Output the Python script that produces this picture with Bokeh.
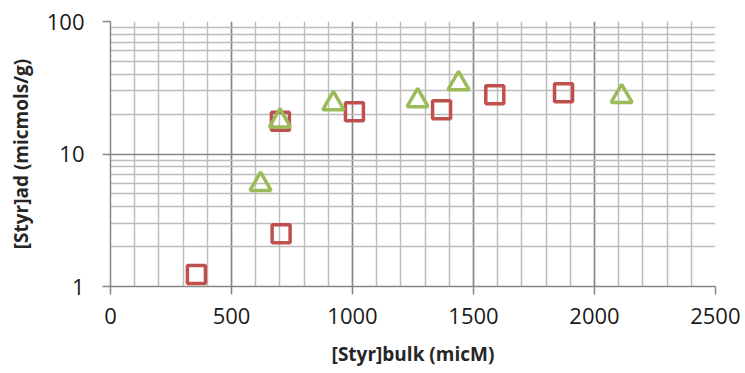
from bokeh.plotting import figure
from bokeh.models import Range1d, FixedTicker, PrintfTickFormatter
from bokeh.embed import file_html
from bokeh.resources import INLINE

# Series 1 (red squares)
sq_x = [355, 705, 702, 1008, 1368, 1588, 1872]
sq_y = [1.23, 2.5, 17.7, 20.8, 21.6, 28.0, 29.0]
# Series 2 (green triangles)
tri_x = [620, 700, 921, 1269, 1438, 2112]
tri_y = [5.9, 17.8, 24.0, 25.3, 34.0, 27.2]

x_major = [0, 500, 1000, 1500, 2000, 2500]
x_minor = list(range(0, 2600, 100))
y_major = [1, 10, 100]
y_minor = [2, 3, 4, 5, 6, 7, 8, 9, 20, 30, 40, 50, 60, 70, 80, 90]

p = figure(width=740, height=369, output_backend="svg", toolbar_location=None,
           x_range=Range1d(0, 2500), y_range=Range1d(1, 100), y_axis_type="log",
           min_border_left=110, min_border_right=25, min_border_top=21, min_border_bottom=83)
p.outline_line_color = None
p.background_fill_color = "white"
p.border_fill_color = "white"

p.xaxis.ticker = FixedTicker(ticks=x_major, minor_ticks=x_minor)
p.yaxis.ticker = FixedTicker(ticks=y_major, minor_ticks=y_minor)
p.yaxis.formatter = PrintfTickFormatter(format="%d")

for g in (p.xgrid, p.ygrid):
    g.grid_line_color = "#868686"
    g.grid_line_width = 1.5
    g.minor_grid_line_color = "#bdbdbd"
    g.minor_grid_line_width = 1.5

for ax in (p.xaxis, p.yaxis):
    ax.axis_line_color = "#868686"
    ax.axis_line_width = 1.5
    ax.major_tick_line_color = "#868686"
    ax.major_tick_line_width = 1.5
    ax.major_tick_out = 8
    ax.major_tick_in = 0
    ax.minor_tick_line_color = None
    ax.major_label_text_font = "Open Sans"
    ax.major_label_text_font_size = "22px"
    ax.major_label_text_color = "#1a1a1a"
    ax.axis_label_text_font = "Open Sans"
    ax.axis_label_text_font_style = "bold"
    ax.axis_label_text_font_size = "19px"
    ax.axis_label_text_color = "#262626"

p.xaxis.axis_label = "[Styr]bulk (micM)"
p.yaxis.axis_label = "[Styr]ad (micmols/g)"
p.xaxis.major_label_standoff = 13
p.yaxis.major_label_standoff = 18
p.xaxis.axis_label_standoff = 14
p.yaxis.axis_label_standoff = 10

p.scatter(sq_x, sq_y, marker="square", size=18, fill_color=None,
          line_color="#c0504d", line_width=3.5)
p.scatter(tri_x, tri_y, marker="triangle", size=21, fill_color=None,
          line_color="#9bbb59", line_width=3.5)

open("out.html", "w").write(file_html(p, INLINE))
